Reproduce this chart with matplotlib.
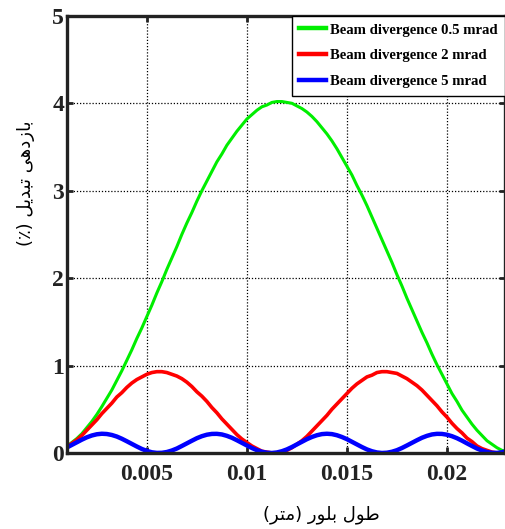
import numpy as np
import matplotlib
matplotlib.use("Agg")
import matplotlib.pyplot as plt

# crystal length (m)
x_len = [0.001, 0.00125, 0.0015, 0.00175, 0.002, 0.00225, 0.0025, 0.00275,
         0.003, 0.00325, 0.0035, 0.00375, 0.004, 0.00425, 0.0045, 0.00475,
         0.005, 0.00525, 0.0055, 0.00575, 0.006, 0.00625, 0.0065, 0.00675,
         0.007, 0.00725, 0.0075, 0.00775, 0.008, 0.00825, 0.0085, 0.00875,
         0.009, 0.00925, 0.0095, 0.00975, 0.010, 0.01025, 0.0105, 0.01075,
         0.011, 0.01125, 0.0115, 0.01175, 0.012, 0.01225, 0.0125, 0.01275,
         0.013, 0.01325, 0.0135, 0.01375, 0.014, 0.01425, 0.0145, 0.01475,
         0.015, 0.01525, 0.0155, 0.01575, 0.016, 0.01625, 0.0165, 0.01675,
         0.017, 0.01725, 0.0175, 0.01775, 0.018, 0.01825, 0.0185, 0.01875,
         0.019, 0.01925, 0.0195, 0.01975, 0.020, 0.02025, 0.0205, 0.02075,
         0.021, 0.02125, 0.0215, 0.02175, 0.022, 0.02225, 0.0225, 0.02275,
         0.023]

# conversion efficiency (%) for each beam divergence
eff_05 = [0.075, 0.12, 0.165, 0.22, 0.29, 0.36, 0.44, 0.53,
          0.625, 0.72, 0.83, 0.94, 1.06, 1.18, 1.31, 1.43,
          1.56, 1.69, 1.83, 1.96, 2.10, 2.23, 2.36, 2.50,
          2.63, 2.75, 2.88, 3.00, 3.11, 3.22, 3.33, 3.42,
          3.52, 3.60, 3.68, 3.75, 3.82, 3.87, 3.92, 3.96,
          3.98, 4.01, 4.02, 4.02, 4.01, 4.00, 3.97, 3.94,
          3.90, 3.85, 3.79, 3.72, 3.65, 3.57, 3.48, 3.38,
          3.28, 3.18, 3.06, 2.95, 2.83, 2.70, 2.57, 2.44,
          2.31, 2.18, 2.04, 1.91, 1.77, 1.64, 1.51, 1.38,
          1.26, 1.13, 1.01, 0.90, 0.79, 0.68, 0.59, 0.49,
          0.41, 0.33, 0.26, 0.20, 0.14, 0.10, 0.06, 0.03,
          0.01]
eff_2 = [0.07, 0.11, 0.15, 0.20, 0.26, 0.32, 0.38, 0.45,
         0.51, 0.57, 0.64, 0.69, 0.75, 0.80, 0.84, 0.87,
         0.90, 0.92, 0.93, 0.93, 0.92, 0.90, 0.88, 0.85,
         0.81, 0.76, 0.70, 0.65, 0.59, 0.52, 0.46, 0.39,
         0.33, 0.27, 0.21, 0.16, 0.12, 0.08, 0.05, 0.02,
         0.01, 0.00, 0.00, 0.01, 0.03, 0.06, 0.10, 0.14,
         0.19, 0.25, 0.31, 0.37, 0.43, 0.50, 0.56, 0.62,
         0.68, 0.74, 0.79, 0.83, 0.87, 0.89, 0.92, 0.93,
         0.93, 0.92, 0.91, 0.88, 0.85, 0.81, 0.77, 0.72,
         0.66, 0.60, 0.54, 0.47, 0.41, 0.34, 0.28, 0.23,
         0.17, 0.13, 0.08, 0.05, 0.03, 0.01, 0.00, 0.00,
         0.01]
eff_5 = [0.062, 0.092, 0.122, 0.152, 0.179, 0.200, 0.214, 0.220,
         0.217, 0.206, 0.188, 0.163, 0.134, 0.104, 0.074, 0.046,
         0.024, 0.008, 0.001, 0.002, 0.011, 0.028, 0.051, 0.080,
         0.110, 0.140, 0.169, 0.192, 0.209, 0.218, 0.219, 0.212,
         0.196, 0.174, 0.146, 0.116, 0.086, 0.057, 0.032, 0.014,
         0.003, 0.000, 0.006, 0.020, 0.041, 0.068, 0.098, 0.128,
         0.158, 0.183, 0.203, 0.216, 0.220, 0.216, 0.203, 0.183,
         0.158, 0.128, 0.098, 0.068, 0.041, 0.020, 0.006, 0.000,
         0.003, 0.014, 0.032, 0.057, 0.086, 0.116, 0.146, 0.174,
         0.196, 0.212, 0.219, 0.218, 0.209, 0.192, 0.169, 0.141,
         0.110, 0.080, 0.051, 0.028, 0.011, 0.002, 0.001, 0.008,
         0.024]

labels = ["Beam divergence 0.5 mrad", "Beam divergence 2 mrad", "Beam divergence 5 mrad"]
xticks = [0.005, 0.01, 0.015, 0.02]
xtick_labels = ["0.005", "0.01", "0.015", "0.02"]
yticks = [0, 1, 2, 3, 4, 5]

# Persian labels written in presentation forms, visual order
xlabel = "(\ufeae\ufe98\ufee3) \ufead\ufeee\ufee0\ufe91 \ufedd\ufeee\ufec3"
ylabel = "(\u066a) \ufede\ufef3\ufeaa\ufe92\ufe97 \ufef0\ufeeb\ufea9\ufeaf\ufe8e\ufe91"

fig = plt.figure(figsize=(5.06, 5.29), dpi=100)
ax = fig.add_axes([0.132, 0.1437, 0.866, 0.8263])

ax.plot(x_len, eff_05, color="#00ee00", lw=2.2, label=labels[0])
ax.plot(x_len, eff_2, color="#ff0000", lw=2.6, label=labels[1])
ax.plot(x_len, eff_5, color="#0000ff", lw=3.2, label=labels[2])

ax.set_xlim(0.001, 0.0229)
ax.set_ylim(0, 5)
ax.set_xticks(xticks)
ax.set_xticklabels(xtick_labels)
ax.set_yticks(yticks)

ax.grid(True, color="black", linestyle=(0, (1, 1.5)), linewidth=0.9)
for s in ax.spines.values():
    s.set_linewidth(2.4)
    s.set_color("#222222")
ax.tick_params(direction="in", length=4, width=2, top=True, right=True,
               colors="#222222")
ax.tick_params(axis="x", pad=8)
ax.tick_params(axis="y", pad=2)
for t in ax.get_xticklabels() + ax.get_yticklabels():
    t.set_fontfamily("Liberation Serif")
    t.set_fontweight("bold")
    t.set_fontsize(17)

ax.set_xlabel(xlabel, fontfamily="DejaVu Sans", fontsize=13)
ax.xaxis.set_label_coords(0.58, -0.12)
ax.set_ylabel(ylabel, fontfamily="DejaVu Sans", fontsize=13)
ax.yaxis.set_label_coords(-0.072, 0.618)

leg = ax.legend(loc="upper right", borderaxespad=0, fancybox=False,
                prop={"family": "Liberation Serif", "weight": "bold", "size": 10.6},
                handlelength=1.8, handletextpad=0.3, labelspacing=0.85,
                borderpad=0.5)
leg.get_frame().set_edgecolor("black")
leg.get_frame().set_linewidth(1.0)
leg.get_frame().set_alpha(1)
for ln in leg.get_lines():
    ln.set_linewidth(3.2)

fig.savefig("out.png", dpi=100)
